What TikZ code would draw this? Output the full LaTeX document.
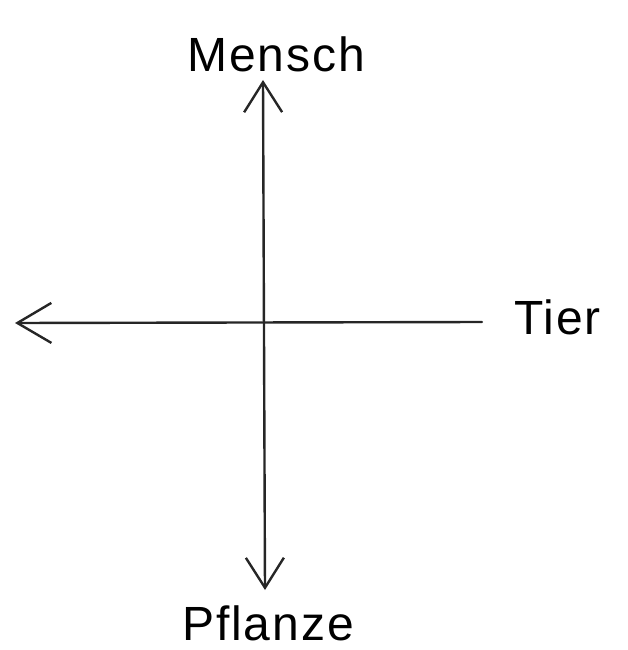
\documentclass[tikz,border=0pt]{standalone}
\usepackage{fontspec}
\setmainfont{Liberation Sans}[LetterSpace=4]
\usetikzlibrary{arrows.meta}
\begin{document}
\begin{tikzpicture}[x=1pt,y=-1pt,
  axis/.style={draw=black!85, line width=2.4pt, line cap=round},
  lbl/.style={font=\fontsize{48}{52}\selectfont, inner sep=0pt}]
\useasboundingbox (0,0) rectangle (628,650);
\node[lbl, anchor=base] (mensch) at (276,72) {Mensch};
\node[lbl, anchor=base west] (tier) at (514,334) {Tier};
\node[lbl, anchor=base] (pflanze) at (268,640) {Pflanze};
\coordinate (top) at (263,80);
\coordinate (bottom) at (265,590);
\coordinate (left) at (15,323);
\coordinate (right) at (482,322);
\draw[axis, {Straight Barb[length=30pt,width=38pt]}-{Straight Barb[length=30pt,width=38pt]}] (bottom) -- (top);
\draw[axis, -{Straight Barb[length=34pt,width=40pt]}] (right) -- (left);
\end{tikzpicture}
\end{document}
